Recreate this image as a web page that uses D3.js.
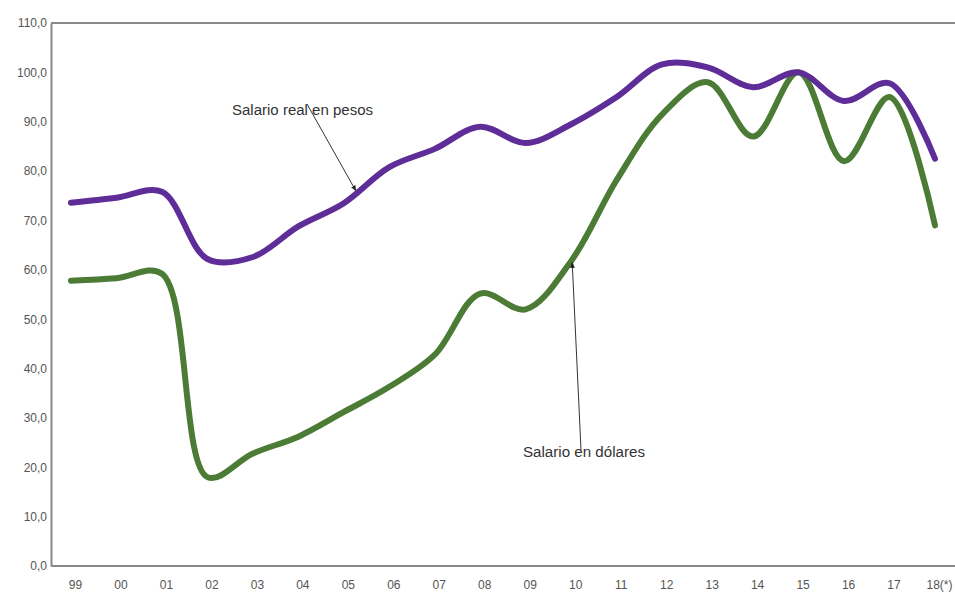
<!DOCTYPE html>
<html>
<head>
<meta charset="utf-8">
<script src="https://cdn.jsdelivr.net/npm/d3@7"></script>
<style>
  body { margin: 0; background: #fff; }
  svg { display: block; }
  text { font-family: "Liberation Sans", Arial, sans-serif; }
</style>
</head>
<body>
<svg id="chart" width="955" height="596"></svg>
<script>
const years = ["99","00","01","02","03","04","05","06","07","08","09","10","11","12","13","14","15","16","17","18(*)"];
const salarioRealPesos = [73.6, 74.6, 75.8, 62.2, 62.6, 68.8, 73.5, 80.8, 84.5, 89.0, 85.7, 89.5, 95.0, 101.6, 101.0, 97.0, 100.0, 94.2, 97.8, 82.5];
const salarioDolares   = [57.8, 58.3, 59.2, 18.0, 22.8, 26.2, 31.2, 36.3, 42.8, 55.2, 52.0, 61.8, 78.2, 91.5, 98.0, 87.0, 100.0, 82.0, 95.0, 69.0];
const yTicks = [0,10,20,30,40,50,60,70,80,90,100,110];

const svg = d3.select("#chart");
const plotLeft = 51, plotRight = 955, plotTop = 23, plotBottom = 566;

const x = d3.scalePoint().domain(years).range([71, 935]);
const y = d3.scaleLinear().domain([0, 110]).range([plotBottom, plotTop]);
const fmt = v => d3.format(".1f")(v).replace(".", ",");

const axisColor = "#8a8a8a";
svg.append("line").attr("x1", plotLeft).attr("x2", plotRight).attr("y1", plotTop).attr("y2", plotTop)
  .attr("stroke", axisColor).attr("stroke-width", 2);

const yAxis = d3.axisLeft(y).tickValues(yTicks).tickSize(0).tickPadding(4).tickFormat(fmt);
const gy = svg.append("g").attr("transform", `translate(${plotLeft},0)`).call(yAxis);
gy.select(".domain").attr("stroke", axisColor).attr("stroke-width", 2);
gy.selectAll("text").attr("fill", "#555").style("font-size", "12px");

const xAxis = d3.axisBottom(x).tickSize(0).tickPadding(14);
const gx = svg.append("g").attr("transform", `translate(0,${plotBottom})`).call(xAxis);
gx.select(".domain").remove();
gx.append("line").attr("x1", plotLeft).attr("x2", plotRight).attr("stroke", axisColor).attr("stroke-width", 2);
gx.selectAll(".tick text").attr("fill", "#555").style("font-size", "12px").attr("dx", 4);

const line = d3.line()
  .x((d, i) => x(years[i]))
  .y(d => y(d))
  .curve(d3.curveCatmullRom.alpha(0.5));

svg.append("path").datum(salarioDolares).attr("d", line)
  .attr("fill", "none").attr("stroke", "#4b7b34").attr("stroke-width", 6)
  .attr("stroke-linecap", "round").attr("stroke-linejoin", "round");
svg.append("path").datum(salarioRealPesos).attr("d", line)
  .attr("fill", "none").attr("stroke", "#5e2d98").attr("stroke-width", 6)
  .attr("stroke-linecap", "round").attr("stroke-linejoin", "round");

const defs = svg.append("defs");
defs.append("marker").attr("id", "arr").attr("viewBox", "0 0 10 10")
  .attr("refX", 9).attr("refY", 5).attr("markerWidth", 6).attr("markerHeight", 6)
  .attr("orient", "auto")
  .append("path").attr("d", "M0,1 L10,5 L0,9 Z").attr("fill", "#222");

svg.append("text").attr("x", 232).attr("y", 115).text("Salario real en pesos")
  .attr("fill", "#333").style("font-size", "14px")
  .attr("textLength", 141).attr("lengthAdjust", "spacingAndGlyphs");
svg.append("line").attr("x1", 307).attr("y1", 104).attr("x2", x("05") + 12).attr("y2", y(76))
  .attr("stroke", "#333").attr("stroke-width", 1).attr("marker-end", "url(#arr)");

svg.append("text").attr("x", 523).attr("y", 457).text("Salario en dólares")
  .attr("fill", "#333").style("font-size", "14px")
  .attr("textLength", 122).attr("lengthAdjust", "spacingAndGlyphs");
svg.append("line").attr("x1", 581).attr("y1", 450).attr("x2", x("10") + 1).attr("y2", y(61.5))
  .attr("stroke", "#333").attr("stroke-width", 1).attr("marker-end", "url(#arr)");
</script>
</body>
</html>
